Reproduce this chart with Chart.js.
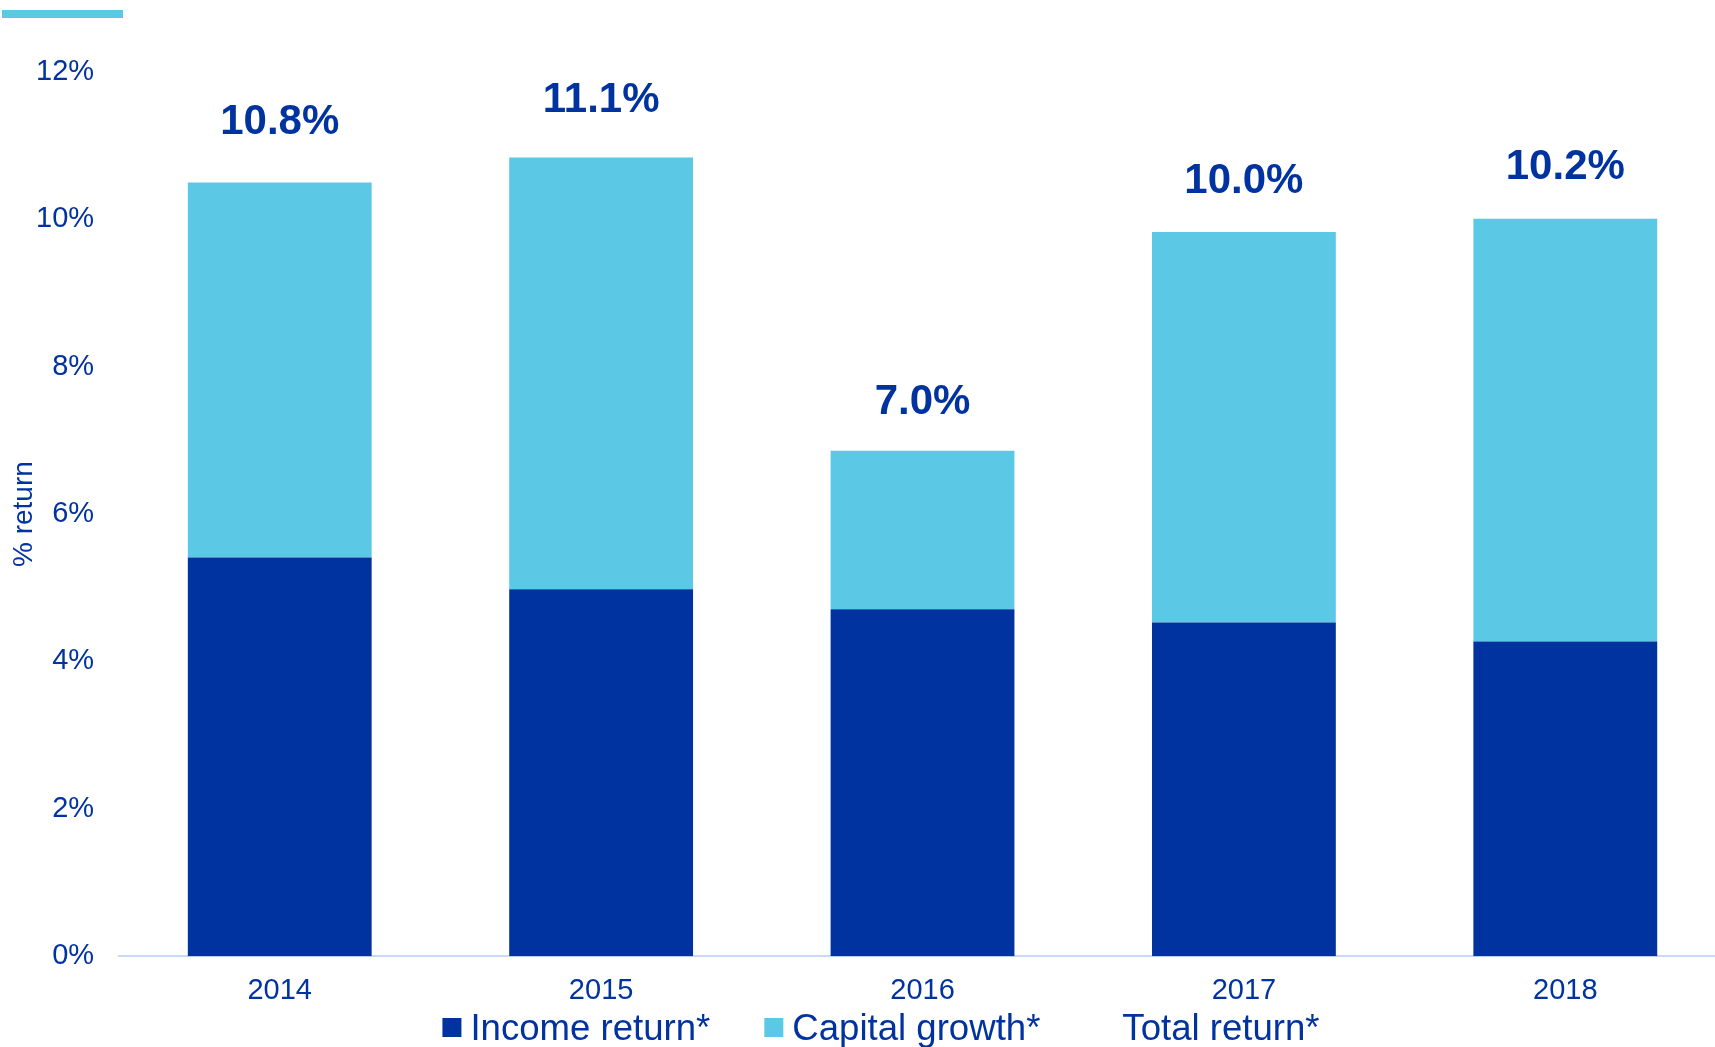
<!DOCTYPE html>
<html>
<head>
<meta charset="utf-8">
<title>Income and capital returns</title>
<script src="https://cdn.jsdelivr.net/npm/chart.js@4/dist/chart.umd.min.js"></script>
<style>
  html, body { margin: 0; padding: 0; background: #fff; overflow: hidden; }
  #wrap { position: relative; width: 1726px; height: 1047px; }
  #accent { position: absolute; left: 2px; top: 10px; width: 121px; height: 8px; background: #5BC9E6; }
  canvas { display: block; }
</style>
</head>
<body>
<div id="wrap">
  <div id="accent"></div>
  <canvas id="returns" width="1726" height="1047"></canvas>
</div>
<script>
const years = ["2014", "2015", "2016", "2017", "2018"];
const incomeReturn = [5.41, 4.98, 4.71, 4.53, 4.27];
const capitalGrowth = [5.09, 5.86, 2.15, 5.30, 5.74];
const totalReturn = [10.8, 11.1, 7.0, 10.0, 10.2];
const yTicks = [0, 2, 4, 6, 8, 10, 12];

const navy = "#0033A0";
const sky = "#5BC9E6";
const fontFamily = '"Liberation Sans", Arial, sans-serif';

// total return figures written above each stack
const totalLabels = {
  id: "totalLabels",
  afterDatasetsDraw(chart) {
    const ctx = chart.ctx;
    const meta = chart.getDatasetMeta(2);
    ctx.save();
    ctx.font = "bold 42px " + fontFamily;
    ctx.fillStyle = navy;
    ctx.textAlign = "center";
    ctx.textBaseline = "alphabetic";
    meta.data.forEach((pt, i) => {
      ctx.fillText(totalReturn[i].toFixed(1) + "%", pt.x, pt.y - 26);
    });
    ctx.restore();
  }
};

// one-row legend under the year labels
const bottomLegend = {
  id: "bottomLegend",
  afterDraw(chart) {
    const ctx = chart.ctx;
    const box = 19, gap = 9, spacing = 54;
    ctx.save();
    ctx.font = "36.6px " + fontFamily;
    const items = chart.data.datasets.map(ds => ({
      label: ds.label,
      color: ds.backgroundColor,
      w: box + gap + ctx.measureText(ds.label).width
    }));
    const total = items.reduce((s, it) => s + it.w, 0) + spacing * (items.length - 1);
    let x = 881 - total / 2;
    const baseline = 1040;
    ctx.textBaseline = "alphabetic";
    items.forEach(it => {
      ctx.fillStyle = it.color;
      ctx.fillRect(x, baseline - 22, box, box);
      ctx.fillStyle = navy;
      ctx.fillText(it.label, x + box + gap, baseline);
      x += it.w + spacing;
    });
    ctx.restore();
  }
};

new Chart(document.getElementById("returns").getContext("2d"), {
  data: {
    labels: years,
    datasets: [
      {
        type: "bar",
        label: "Income return*",
        data: incomeReturn,
        backgroundColor: navy,
        stack: "returns",
        categoryPercentage: 1,
        barPercentage: 0.572
      },
      {
        type: "bar",
        label: "Capital growth*",
        data: capitalGrowth,
        backgroundColor: sky,
        stack: "returns",
        categoryPercentage: 1,
        barPercentage: 0.572
      },
      {
        type: "line",
        label: "Total return*",
        data: totalReturn,
        backgroundColor: "rgba(0,0,0,0)",
        borderColor: "rgba(0,0,0,0)",
        showLine: false,
        pointRadius: 0,
        stack: "total"
      }
    ]
  },
  options: {
    responsive: false,
    animation: false,
    layout: { padding: { top: 72, right: 0, bottom: 22, left: 0 } },
    plugins: {
      legend: { display: false },
      tooltip: { enabled: false }
    },
    scales: {
      x: {
        stacked: true,
        grid: { display: false, drawTicks: false },
        border: { display: true, color: "#C8D8F5", width: 2 },
        ticks: {
          color: navy,
          padding: 17,
          font: { family: fontFamily, size: 29 }
        }
      },
      y: {
        stacked: true,
        min: 0,
        max: 12,
        afterBuildTicks: axis => { axis.ticks = yTicks.map(v => ({ value: v })); },
        grid: { display: false, drawTicks: false },
        border: { display: false },
        ticks: {
          color: navy,
          padding: 25,
          font: { family: fontFamily, size: 29 },
          callback: v => v + "%"
        },
        title: {
          display: true,
          text: "% return",
          color: navy,
          padding: { top: 10, bottom: -27 },
          font: { family: fontFamily, size: 28, lineHeight: 1 }
        }
      }
    }
  },
  plugins: [totalLabels, bottomLegend]
});
</script>
</body>
</html>
